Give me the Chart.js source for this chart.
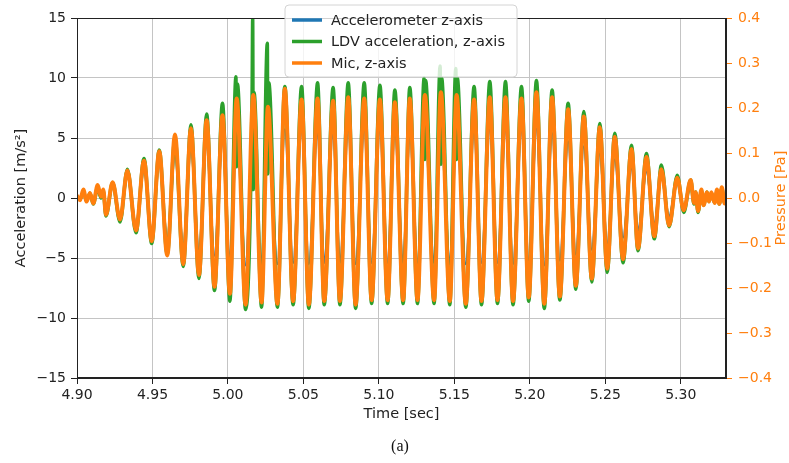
<!DOCTYPE html>
<html>
<head>
<meta charset="utf-8">
<script src="https://cdn.jsdelivr.net/npm/chart.js@4.4.0/dist/chart.umd.min.js"></script>
<style>
  html, body { margin: 0; padding: 0; background: #fff; }
  canvas { display: block; }
</style>
</head>
<body>
<canvas id="chart" width="789" height="463"></canvas>
<script>
// peak / trough times [s] shared by accelerometer and mic traces
const time = [
  4.9000, 4.9020, 4.9042, 4.9064, 4.9086, 4.9108, 4.9137, 4.9159, 4.9174, 4.9192,
  4.9236, 4.9285, 4.9334, 4.9391, 4.9444, 4.9495, 4.9545, 4.9598, 4.9649, 4.9704,
  4.9755, 4.9808, 4.9859, 4.9911, 4.9964, 5.0013, 5.0058, 5.0117, 5.0168, 5.0223,
  5.0265, 5.0328, 5.0377, 5.0432, 5.0488, 5.0536, 5.0594, 5.0638, 5.0697, 5.0742,
  5.0797, 5.0846, 5.0903, 5.0952, 5.1007, 5.1058, 5.1106, 5.1161, 5.1205, 5.1256,
  5.1305, 5.1366, 5.1411, 5.1470, 5.1515, 5.1576, 5.1631, 5.1680, 5.1735, 5.1786,
  5.1839, 5.1889, 5.1945, 5.1993, 5.2044, 5.2096, 5.2148, 5.2199, 5.2254, 5.2305,
  5.2358, 5.2411, 5.2464, 5.2513, 5.2563, 5.2618, 5.2674, 5.2717, 5.2773, 5.2825,
  5.2872, 5.2923, 5.2977, 5.3020, 5.3066, 5.3088, 5.3099, 5.3115, 5.3137, 5.3152,
  5.3174, 5.3187, 5.3203, 5.3225, 5.3240, 5.3256, 5.3272, 5.3291, 5.3298
];

// accelerometer z [m/s^2]
const accel = [
  0.1, -0.1, 0.4, -0.2, 0.3, -0.4, 0.8, 0.0, 0.5, -1.2,
  1.0, -1.5, 1.8, -2.2, 2.4, -2.8, 2.9, -3.4, 3.6, -3.9,
  4.1, -4.3, 4.5, -4.8, 4.8, -5.2, 5.4, -5.6, 5.6, -5.5,
  5.3, -5.5, 5.7, -5.4, 5.6, -5.5, 5.7, -5.4, 5.6, -5.4,
  5.7, -5.5, 5.7, -5.4, 5.6, -5.4, 5.5, -5.4, 5.6, -5.4,
  5.8, -5.4, 5.8, -5.5, 5.8, -5.5, 5.6, -5.4, 5.7, -5.4,
  5.7, -5.5, 5.6, -5.3, 5.8, -5.6, 5.4, -5.2, 4.7, -4.7,
  4.3, -4.3, 3.7, -3.8, 3.2, -3.3, 2.7, -2.7, 2.2, -2.1,
  1.7, -1.5, 1.2, -0.8, 1.0, -0.3, 0.3, -0.7, 0.4, -0.4,
  0.3, -0.2, 0.3, -0.3, 0.4, -0.3, 0.5, -0.3, 0.0
];

// microphone pressure [Pa]
const mic = [
  0.005, -0.005, 0.019, -0.008, 0.011, -0.012, 0.029, 0.003, 0.019, -0.037,
  0.035, -0.048, 0.061, -0.072, 0.083, -0.096, 0.104, -0.128, 0.141, -0.147,
  0.155, -0.171, 0.173, -0.197, 0.184, -0.213, 0.221, -0.237, 0.229, -0.232,
  0.203, -0.235, 0.243, -0.229, 0.219, -0.237, 0.221, -0.229, 0.216, -0.229,
  0.224, -0.237, 0.221, -0.227, 0.219, -0.227, 0.213, -0.227, 0.221, -0.227,
  0.229, -0.227, 0.235, -0.229, 0.229, -0.235, 0.219, -0.229, 0.224, -0.227,
  0.224, -0.229, 0.221, -0.221, 0.235, -0.235, 0.224, -0.219, 0.197, -0.195,
  0.181, -0.179, 0.157, -0.157, 0.136, -0.136, 0.109, -0.112, 0.091, -0.085,
  0.064, -0.061, 0.045, -0.027, 0.040, -0.011, 0.013, -0.029, 0.019, -0.016,
  0.013, -0.008, 0.013, -0.011, 0.019, -0.013, 0.024, -0.012, 0.000
];

// LDV trace has its own times: extra samples for the spikes near the crests
const ldvTime = [
  4.9000, 4.9020, 4.9042, 4.9064, 4.9086, 4.9108, 4.9137, 4.9159, 4.9174, 4.9192,
  4.9236, 4.9285, 4.9334, 4.9391, 4.9444, 4.9495, 4.9545, 4.9598, 4.9649, 4.9704,
  4.9755, 4.9808, 4.9859, 4.9911, 4.9964, 5.0013,
  5.0053, 5.0058, 5.0063, 5.0117,
  5.0160, 5.0164, 5.0168, 5.0173, 5.0223,
  5.0261, 5.0265, 5.0271, 5.0328,
  5.0377, 5.0432, 5.0488, 5.0536, 5.0594, 5.0638, 5.0697, 5.0742, 5.0797, 5.0846,
  5.0903, 5.0952, 5.1007, 5.1058, 5.1106, 5.1161, 5.1205, 5.1256,
  5.1300, 5.1305, 5.1310, 5.1366,
  5.1406, 5.1411, 5.1416, 5.1470,
  5.1510, 5.1515, 5.1520, 5.1576,
  5.1631, 5.1680, 5.1735, 5.1786, 5.1839, 5.1889, 5.1945, 5.1993, 5.2044, 5.2096,
  5.2148, 5.2199, 5.2254, 5.2305, 5.2358, 5.2411, 5.2464, 5.2513, 5.2563, 5.2618,
  5.2674, 5.2717, 5.2773, 5.2825, 5.2872, 5.2923, 5.2977, 5.3020, 5.3066,
  5.3088, 5.3099, 5.3115, 5.3137, 5.3152, 5.3174, 5.3187, 5.3203, 5.3225, 5.3240,
  5.3256, 5.3272, 5.3291, 5.3298
];

// LDV acceleration z [m/s^2]
const ldv = [
  0.1, -0.1, 0.5, -0.2, 0.4, -0.5, 0.9, 0.0, 0.6, -1.5,
  1.3, -2.0, 2.4, -2.9, 3.3, -3.8, 4.0, -4.7, 5.0, -5.7,
  6.1, -6.7, 7.0, -7.7, 7.9, -8.6,
  10.1, 2.6, 9.5, -9.3,
  8.6, 15.0, 0.7, 8.8, -9.1,
  12.9, 2.0, 9.6, -9.1,
  9.3, -8.9, 9.3, -9.2, 9.6, -8.9, 9.2, -8.9, 9.6, -9.2,
  9.6, -8.8, 9.4, -8.8, 9.0, -8.8, 9.2, -8.8,
  10.0, 3.2, 9.8, -8.8,
  11.0, 2.8, 10.0, -8.9,
  10.8, 3.2, 10.0, -9.1,
  9.3, -8.9, 9.7, -8.8, 9.7, -8.9, 9.3, -8.6, 9.8, -9.2,
  9.0, -8.5, 7.9, -7.6, 7.2, -7.0, 6.2, -6.2, 5.4, -5.4,
  4.4, -4.4, 3.7, -3.4, 2.75, -2.4, 1.9, -1.2, 1.5,
  -0.5, 0.5, -1.2, 0.6, -0.6, 0.5, -0.3, 0.4, -0.4, 0.6,
  -0.5, 0.8, -0.4, 0.0
];

const xTicks = [4.90, 4.95, 5.00, 5.05, 5.10, 5.15, 5.20, 5.25, 5.30];
const accRange = [-15, 15];
const paRange = [-0.4, 0.4];

const BLUE = '#1f77b4', ORANGE = '#ff7f0e', GREEN = '#2ca02c';
const FONT = "'DejaVu Sans', sans-serif";
const minus = s => String(s).replace('-', '\u2212');

const pts = (xs, ys) => xs.map((x, i) => ({ x, y: ys[i] }));

// background, frame, axis titles, legend and caption
const decor = {
  id: 'decor',
  beforeDraw(c) {
    const g = c.ctx;
    g.save();
    g.fillStyle = '#fff';
    g.fillRect(0, 0, c.width, c.height);
    g.restore();
  },
  afterDatasetsDraw(c) {
    const g = c.ctx, a = c.chartArea;
    g.save();
    g.strokeStyle = '#222';
    g.lineWidth = 1;
    g.strokeRect(Math.round(a.left) + 0.5, Math.round(a.top) + 0.5,
      Math.round(a.right - a.left) - 1, Math.round(a.bottom - a.top) - 1);
    g.restore();
  },
  afterDraw(c) {
    const g = c.ctx, a = c.chartArea;
    const midY = (a.top + a.bottom) / 2;
    g.save();
    g.font = '14.5px ' + FONT;
    g.textAlign = 'center';
    g.textBaseline = 'middle';

    g.fillStyle = '#222';
    g.fillText('Time [sec]', (a.left + a.right) / 2, 414);

    g.save();
    g.translate(21, midY);
    g.rotate(-Math.PI / 2);
    g.fillText('Acceleration [m/s\u00b2]', 0, 0);
    g.restore();

    g.save();
    g.fillStyle = ORANGE;
    g.translate(781, midY);
    g.rotate(-Math.PI / 2);
    g.fillText('Pressure [Pa]', 0, 0);
    g.restore();

    g.fillStyle = '#111';
    g.font = "16px 'Liberation Serif', serif";
    g.fillText('(a)', 400, 447);

    // legend box
    const bx = 285, by = 5, bw = 232, bh = 72, r = 4;
    g.beginPath();
    g.moveTo(bx + r, by);
    g.arcTo(bx + bw, by, bx + bw, by + bh, r);
    g.arcTo(bx + bw, by + bh, bx, by + bh, r);
    g.arcTo(bx, by + bh, bx, by, r);
    g.arcTo(bx, by, bx + bw, by, r);
    g.closePath();
    g.fillStyle = 'rgba(255,255,255,0.8)';
    g.fill();
    g.strokeStyle = '#d4d4d4';
    g.lineWidth = 1;
    g.stroke();

    const rows = [
      ['Accelerometer z-axis', BLUE],
      ['LDV acceleration, z-axis', GREEN],
      ['Mic, z-axis', ORANGE]
    ];
    g.font = '14.5px ' + FONT;
    g.textAlign = 'left';
    rows.forEach(([label, col], i) => {
      const y = 20 + i * 21.5;
      g.strokeStyle = col;
      g.lineWidth = 3.5;
      g.beginPath();
      g.moveTo(292, y);
      g.lineTo(322, y);
      g.stroke();
      g.fillStyle = '#222';
      g.fillText(label, 331, y + 1);
    });
    g.restore();
  }
};

const tickFont = { family: FONT, size: 14 };

new Chart(document.getElementById('chart'), {
  type: 'line',
  data: {
    datasets: [
      {
        label: 'Accelerometer z-axis',
        data: pts(time, accel),
        borderColor: BLUE,
        borderWidth: 2.5,
        yAxisID: 'y',
        order: 3
      },
      {
        label: 'LDV acceleration, z-axis',
        data: pts(ldvTime, ldv),
        borderColor: GREEN,
        borderWidth: 3.5,
        yAxisID: 'y',
        order: 2
      },
      {
        label: 'Mic, z-axis',
        data: pts(time, mic),
        borderColor: ORANGE,
        borderWidth: 4,
        yAxisID: 'y2',
        order: 1
      }
    ]
  },
  options: {
    responsive: false,
    animation: false,
    devicePixelRatio: 1,
    layout: { padding: { top: 18, left: 0, right: 0, bottom: 0 } },
    elements: {
      point: { radius: 0 },
      line: { cubicInterpolationMode: 'monotone', borderJoinStyle: 'round', borderCapStyle: 'round' }
    },
    plugins: { legend: { display: false }, tooltip: { enabled: false } },
    scales: {
      x: {
        type: 'linear',
        min: 4.9,
        max: 5.33,
        afterBuildTicks: s => { s.ticks = xTicks.map(v => ({ value: v })); },
        afterFit: s => { s.height = 85; },
        ticks: { color: '#222', font: tickFont, padding: 3, maxRotation: 0, callback: v => v.toFixed(2) },
        grid: { color: '#c4c4c4', tickColor: '#222', tickLength: 6 },
        border: { color: '#222' }
      },
      y: {
        position: 'left',
        min: accRange[0],
        max: accRange[1],
        afterFit: s => { s.width = 77; },
        ticks: { stepSize: 5, color: '#222', font: tickFont, padding: 5, callback: v => minus(v) },
        grid: { color: '#c4c4c4', tickColor: '#222', tickLength: 6 },
        border: { color: '#222' }
      },
      y2: {
        position: 'right',
        min: paRange[0],
        max: paRange[1],
        afterFit: s => { s.width = 63; },
        ticks: { stepSize: 0.1, color: ORANGE, font: tickFont, padding: 6, callback: v => minus(v.toFixed(1)) },
        grid: { drawOnChartArea: false, tickColor: ORANGE, tickLength: 6 },
        border: { color: '#222' }
      }
    }
  },
  plugins: [decor]
});
</script>
</body>
</html>
